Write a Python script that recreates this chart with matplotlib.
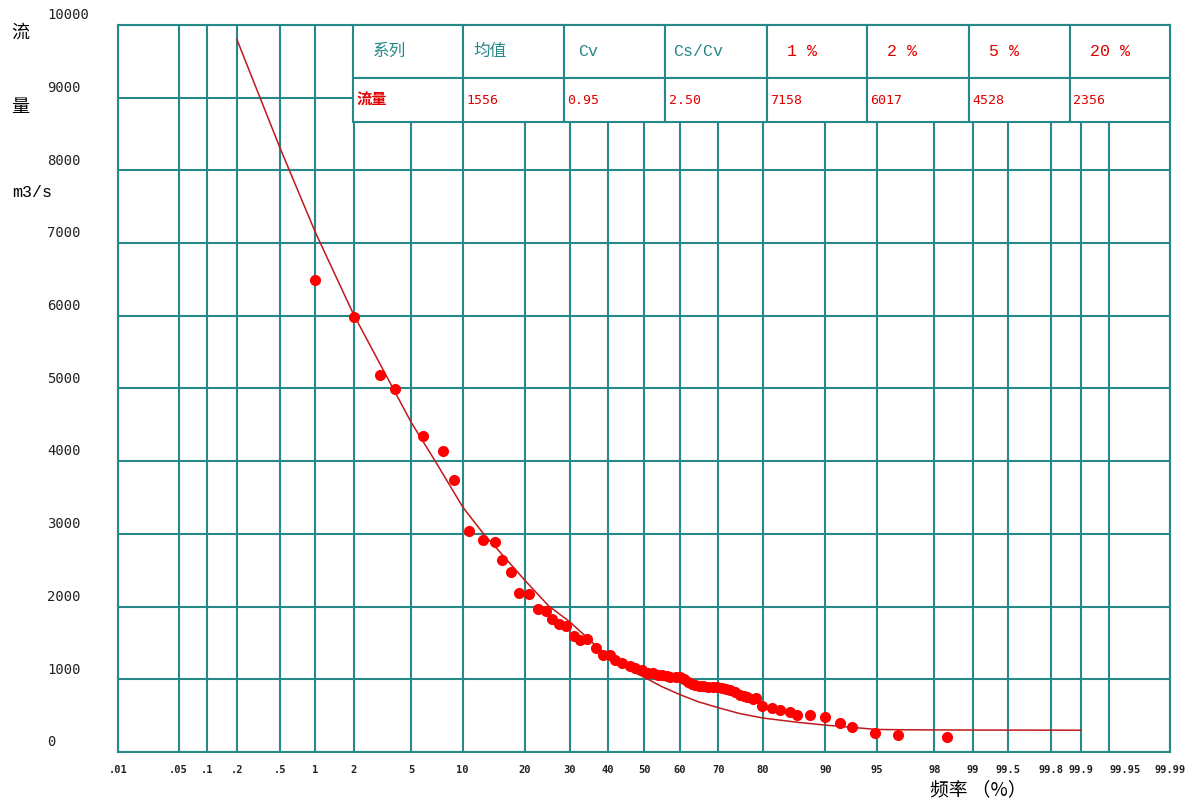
import matplotlib
matplotlib.use('Agg')
import matplotlib.pyplot as plt
import numpy as np
from statistics import NormalDist

# frequency axis (exceedance probability, %)
x_ticks = [0.01, 0.05, 0.1, 0.2, 0.5, 1, 2, 5, 10, 20, 30, 40, 50, 60, 70, 80,
           90, 95, 98, 99, 99.5, 99.8, 99.9, 99.95, 99.99]
x_labels = ['.01', '.05', '.1', '.2', '.5', '1', '2', '5', '10', '20', '30', '40',
            '50', '60', '70', '80', '90', '95', '98', '99', '99.5', '99.8', '99.9',
            '99.95', '99.99']
y_ticks = [0, 1000, 2000, 3000, 4000, 5000, 6000, 7000, 8000, 9000, 10000]

# fitted curve
curve_p = [0.2, 0.5, 1, 2, 5, 7, 10, 13, 15, 20, 25, 30, 38, 41, 47, 50, 55, 60, 65,
           70, 75, 80, 86, 90, 95, 97, 99, 99.5, 99.9]
curve_q = [9800, 8320, 7160, 6020, 4530, 4000, 3370, 2980, 2790, 2360, 2010, 1790,
           1400, 1265, 1100, 1030, 900, 790, 690, 610, 530, 467, 410, 370, 310, 305,
           302, 301, 300]

# measured points
obs_p = [1.0, 2.0, 3.1, 3.9, 5.9, 7.8, 9.0, 10.8, 12.7, 14.6, 15.8, 17.3, 18.8, 20.8,
         22.7, 24.4, 25.8, 27.4, 29.0, 31.0, 32.5, 34.3, 36.7, 38.6, 40.5, 42.0, 43.8,
         46.1, 47.5, 49.4, 51.1, 52.5, 54.0, 55.1, 56.5, 57.3, 59.0, 60.0, 61.0, 62.2,
         63.2, 64.1, 65.2, 66.2, 67.5, 68.7, 69.8, 70.9, 72.0, 72.8, 74.0, 75.1, 76.0,
         76.7, 78.0, 78.5, 79.8, 81.7, 83.2, 84.9, 86.0, 88.0, 90.0, 91.7, 92.9, 94.9,
         96.4, 98.4]
obs_q = [6490, 5990, 5190, 4990, 4350, 4140, 3740, 3040, 2920, 2890, 2640, 2480, 2190,
         2170, 1970, 1940, 1830, 1760, 1730, 1600, 1540, 1560, 1430, 1330, 1330, 1260,
         1220, 1180, 1150, 1130, 1090, 1080, 1060, 1060, 1040, 1030, 1030, 1030, 1000,
         960, 940, 920, 910, 910, 900, 890, 890, 880, 870, 850, 830, 790, 770, 760, 730,
         740, 630, 610, 580, 550, 510, 510, 480, 400, 340, 260, 230, 210]

# statistics table
tab_head = ['系列', '均值', 'Cv', 'Cs/Cv', '1 %', '2 %', '5 %', '20 %']
tab_row = ['流量', '1556', '0.95', '2.50', '7158', '6017', '4528', '2356']

teal = '#268888'
red = '#ff0000'
nd = NormalDist()


def p2z(p):
    p = np.clip(np.asarray(p, dtype=float), 1e-7, 100 - 1e-7)
    return np.vectorize(lambda v: nd.inv_cdf(v / 100.0), otypes=[float])(p)


def z2p(z):
    z = np.asarray(z, dtype=float)
    return np.vectorize(lambda v: nd.cdf(v) * 100.0, otypes=[float])(z)


fig = plt.figure(figsize=(11.96, 8.05), dpi=100)
ax = fig.add_axes([118 / 1196, 1 - 752 / 805, 1052 / 1196, 727 / 805])
ax.set_xscale('function', functions=(p2z, z2p))
ax.set_xlim(0.01, 99.99)
ax.set_ylim(0, 10000)

ax.set_xticks(x_ticks)
ax.set_xticklabels(x_labels, fontsize=7.5, fontweight='bold', family='DejaVu Sans Mono',
                   color='#222222')
# keep the two crowded labels on the right apart
for lab in ax.get_xticklabels():
    if lab.get_text() == '99.95':
        lab.set_ha('left')
ax.set_yticks(y_ticks)
ax.set_yticklabels([])
ax.tick_params(length=0, pad=9)
ax.minorticks_off()
ax.grid(True, color=teal, lw=1.5)
ax.set_axisbelow(True)
for s in ax.spines.values():
    s.set_color(teal)
    s.set_linewidth(1.5)

# y labels sit left and above their grid line
for v in y_ticks:
    ax.annotate(str(v), xy=(47 / 1196, v), xycoords=('figure fraction', 'data'),
                xytext=(0, 7), textcoords='offset points', ha='left', va='center',
                fontsize=10, family='DejaVu Sans Mono', color='#222222',
                annotation_clip=False)

ax.plot(curve_p, curve_q, color='#c0181c', lw=1.1, zorder=4)
ax.plot(obs_p, obs_q, 'o', color=red, markersize=8, markeredgewidth=0, zorder=5)

# table in the top right corner
x0 = (353 - 118) / 1052
y0 = (752 - 122) / 727
tbl = ax.table(cellText=[tab_head, tab_row], cellLoc='left',
               bbox=[x0, y0, 1 - x0, 1 - y0])
tbl.auto_set_font_size(False)
tbl.set_zorder(6)
col_w = [110, 101, 101, 102, 100, 102, 101, 100]
head_pad = [0.18, 0.10, 0.14, 0.08, 0.20, 0.20, 0.20, 0.20]
for (r, c), cell in tbl.get_celld().items():
    cell.set_edgecolor(teal)
    cell.set_linewidth(1.5)
    cell.set_facecolor('white')
    cell.set_width(col_w[c])
    t = cell.get_text()
    if r == 0:
        cell.set_height(53)
        cell.PAD = head_pad[c]
        if c < 2:
            t.set_fontfamily('Noto Sans CJK SC')
            t.set_fontsize(12)
            t.set_color(teal)
        else:
            t.set_fontfamily('Liberation Mono')
            t.set_fontsize(12)
            t.set_color(teal if c < 4 else '#e00000')
    else:
        cell.set_height(44)
        cell.PAD = 0.035
        if c == 0:
            t.set_fontfamily('Noto Sans CJK SC')
            t.set_fontsize(11)
            t.set_fontweight('bold')
        else:
            t.set_fontfamily('DejaVu Sans Mono')
            t.set_fontsize(9.5)
        t.set_color('#e00000')

# axis captions
fig.text(20 / 1196, 1 - 33 / 805, '流', family='Noto Sans CJK SC', fontsize=13,
         ha='center', va='center')
fig.text(20 / 1196, 1 - 107 / 805, '量', family='Noto Sans CJK SC', fontsize=13,
         ha='center', va='center')
fig.text(32 / 1196, 1 - 192 / 805, 'm3/s', family='Liberation Mono', fontsize=12,
         ha='center', va='center')
fig.text(978 / 1196, 1 - 790 / 805, '频率 （%）', family=['Noto Sans CJK SC', 'DejaVu Sans'],
         fontsize=13.5, ha='center', va='center')

fig.savefig('out.png', dpi=100, facecolor='white')
